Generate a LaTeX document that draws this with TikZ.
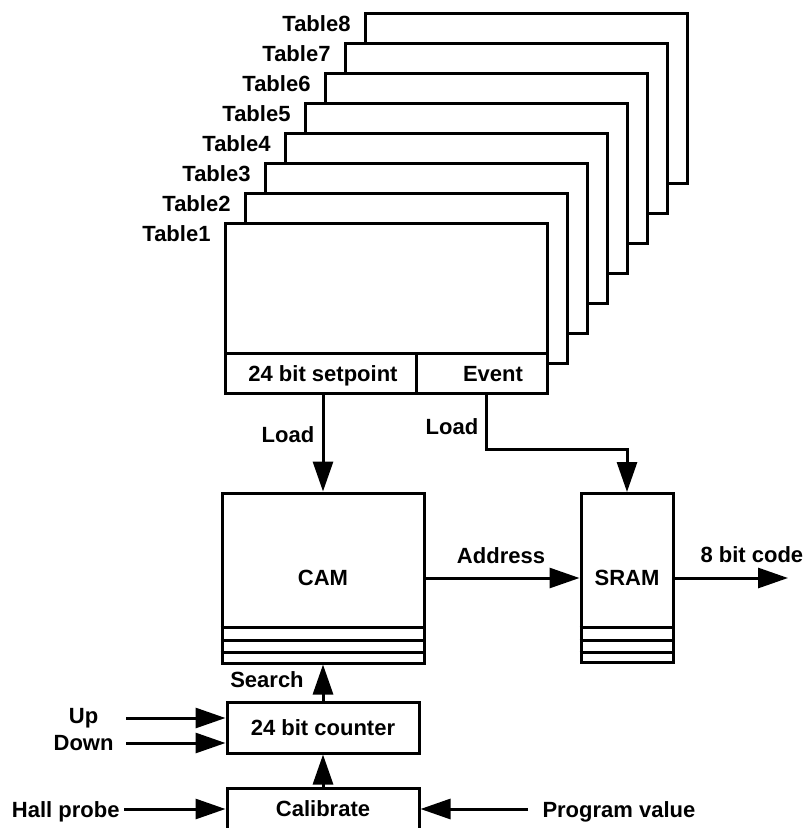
\documentclass[tikz,border=0pt]{standalone}
\usepackage{fontspec}
\setmainfont{Liberation Sans}
\usetikzlibrary{arrows.meta}
\usetikzlibrary{positioning}

\begin{document}
\begin{tikzpicture}[x=1pt,y=-1pt,
  line width=3pt,
  box/.style={draw,fill=white,inner sep=0pt},
  arr/.style={-{Triangle[length=30pt,width=20pt]}},
  lbl/.style={inner sep=0pt}]
\fontsize{22}{26}\selectfont\bfseries
\useasboundingbox (0,0) rectangle (805,828);
% tables, back to front
\foreach \i in {8,...,1}{
  \node[box,minimum width=322pt,minimum height=170pt,anchor=north west] (t\i)
    at ({224+20*(\i-1)},{222-30*(\i-1)}) {};
  \node[lbl,anchor=base east] at ([xshift=-12pt,yshift=-19pt]t\i.north west) {Table\i};
}
\node[box,minimum width=191pt,minimum height=40pt,anchor=south west] (setpoint) at (t1.south west) {};
\node[box,minimum width=131pt,minimum height=40pt,anchor=south east] (event) at (t1.south east) {};
\node[lbl,anchor=base] at (323,381) {24 bit setpoint};
\node[lbl,anchor=base] at (493,381) {Event};
% memories
\node[box,minimum width=202pt,minimum height=170pt] (cam) at (323,578) {CAM};
\node[box,minimum width=92pt,minimum height=169pt] (sram) at (627,578) {SRAM};
\foreach \d in {12,24,37}{
  \draw ([yshift=\d pt]cam.south west) -- ([yshift=\d pt]cam.south east);
  \draw ([yshift=\d pt]sram.south west) -- ([yshift=\d pt]sram.south east);
}
\node[box,minimum width=192pt,minimum height=51pt] (counter) at (323,727.5) {24 bit counter};
\node[box,minimum width=192pt,minimum height=42pt] (calib) at (323,809) {Calibrate};
\coordinate (code) at (788,578);
\coordinate (up) at (126,718);
\coordinate (down) at (126,743);
\coordinate (hall) at (124,809);
\coordinate (prog) at (528,809);
\draw[arr] (cam.north |- setpoint.south) -- (cam.north);
\draw[arr] ([xshift=4pt]event.south) -- ++(0,54) -| (sram.north);
\draw[arr] (cam.east) -- (sram.west);
\draw[arr] (sram.east) -- (code);
\draw[arr] (counter.north) -- (cam.south);
\draw[arr] (calib.north) -- (counter.south);
\draw[arr] (up) -- (up -| counter.west);
\draw[arr] (down) -- (down -| counter.west);
\draw[arr] (hall) -- (calib.west);
\draw[arr] (prog) -- (calib.east);
% labels
\node[lbl] at (288,435) {Load};
\node[lbl] at (452,427) {Load};
\node[lbl] at (501,556) {Address};
\node[lbl,anchor=west] at (699,555) {8 bit code};
\node[lbl] at (267,680) {Search};
\node[lbl] (downlbl) [left=11pt of down] {Down};
\node[lbl,anchor=base] at (downlbl.base |- 0,723) {Up};
\node[lbl,anchor=base east] at (121,817) {Hall probe};
\node[lbl,anchor=base west] at (541,817) {Program value};
\end{tikzpicture}
\end{document}
